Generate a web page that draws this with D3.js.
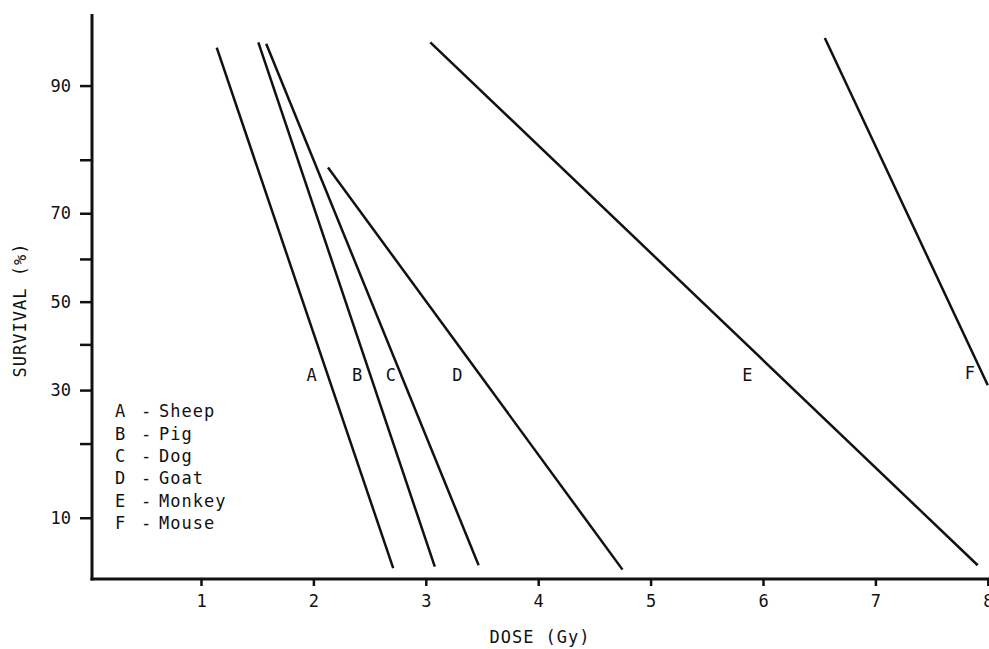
<!DOCTYPE html>
<html>
<head>
<meta charset="utf-8">
<script src="https://cdn.jsdelivr.net/npm/d3@7/dist/d3.min.js"></script>
<style>
  body { margin: 0; background: #fff; }
  text { font-family: "DejaVu Sans Mono", monospace; fill: #111; }
</style>
</head>
<body>
<div id="chart"></div>
<script>
// species lines, endpoints: [dose Gy, survival %]
var species = ["A", "B", "C", "D", "E", "F"];
var names = ["Sheep", "Pig", "Dog", "Goat", "Monkey", "Mouse"];
var doseStart = [1.14, 1.51, 1.58, 2.13, 3.04, 6.55];
var survStart = [93.4, 93.8, 93.7, 78.7, 93.8, 94.1];
var doseEnd = [2.71, 3.08, 3.47, 4.75, 7.91, 8.0];
var survEnd = [5.7, 5.8, 5.9, 5.6, 5.9, 31.0];
// where the letters sit
var labelDose = [1.985, 2.39, 2.69, 3.28, 5.86, 7.84];
var labelSurv = [33.2, 33.2, 33.2, 33.2, 33.2, 33.6];

var doseTicks = [1, 2, 3, 4, 5, 6, 7, 8];
var survTicks = [10, 20, 30, 40, 50, 60, 70, 80, 90];
var survTickLabels = ["10", "", "30", "", "50", "", "70", "", "90"];

var W = 989, H = 649;

// inverse normal cdf (Acklam) - y axis is a probit scale
function probit(p) {
  var a = [-39.69683028665376, 220.9460984245205, -275.9285104469687, 138.3577518672690, -30.66479806614716, 2.506628277459239];
  var b = [-54.47609879822406, 161.5858368580409, -155.6989798598866, 66.80131188771972, -13.28068155288572];
  var c = [-0.007784894002430293, -0.3223964580411365, -2.400758277161838, -2.549732539343734, 4.374664141464968, 2.938163982698783];
  var d = [0.007784695709041462, 0.3224671290700398, 2.445134137142996, 3.754408661907416];
  var pl = 0.02425, q, r;
  if (p < pl) {
    q = Math.sqrt(-2 * Math.log(p));
    return (((((c[0]*q+c[1])*q+c[2])*q+c[3])*q+c[4])*q+c[5]) / ((((d[0]*q+d[1])*q+d[2])*q+d[3])*q+1);
  }
  if (p > 1 - pl) {
    q = Math.sqrt(-2 * Math.log(1 - p));
    return -(((((c[0]*q+c[1])*q+c[2])*q+c[3])*q+c[4])*q+c[5]) / ((((d[0]*q+d[1])*q+d[2])*q+d[3])*q+1);
  }
  q = p - 0.5; r = q * q;
  return (((((a[0]*r+a[1])*r+a[2])*r+a[3])*r+a[4])*r+a[5])*q / (((((b[0]*r+b[1])*r+b[2])*r+b[3])*r+b[4])*r+1);
}

var svg = d3.select("#chart").append("svg")
  .attr("width", W)
  .attr("height", H);

var x = d3.scaleLinear().domain([0, 8]).range([88.6, 987.8]);
var yz = d3.scaleLinear().domain([probit(0.05), probit(0.956)]).range([579, 14]);
function y(p) { return yz(probit(p / 100)); }

var axisX0 = 92, axisY0 = 579;

// y axis
var yAxis = d3.axisLeft(yz)
  .tickValues(survTicks.map(p => probit(p / 100)))
  .tickFormat((d, i) => survTickLabels[i])
  .tickSizeInner(12)
  .tickSizeOuter(0)
  .tickPadding(9);
var gy = svg.append("g").attr("transform", "translate(" + axisX0 + ",0)").call(yAxis);
gy.select(".domain").remove();
gy.selectAll(".tick line").attr("stroke", "#111").attr("stroke-width", 2.5);
gy.selectAll(".tick text").style("font-size", "17px").attr("fill", "#111");
svg.append("line")
  .attr("x1", axisX0).attr("x2", axisX0)
  .attr("y1", 14).attr("y2", axisY0 + 1.5)
  .attr("stroke", "#111").attr("stroke-width", 3);

// x axis
var xAxis = d3.axisBottom(x)
  .tickValues(doseTicks)
  .tickFormat(d3.format("d"))
  .tickSizeInner(7)
  .tickSizeOuter(0)
  .tickPadding(9);
var gx = svg.append("g").attr("transform", "translate(0," + axisY0 + ")").call(xAxis);
gx.select(".domain").remove();
gx.selectAll(".tick line").attr("stroke", "#111").attr("stroke-width", 2.5);
gx.selectAll(".tick text").style("font-size", "17px").attr("fill", "#111");
svg.append("line")
  .attr("x1", axisX0 - 1.5).attr("x2", W)
  .attr("y1", axisY0).attr("y2", axisY0)
  .attr("stroke", "#111").attr("stroke-width", 3);

// axis titles
svg.append("text")
  .attr("x", 540).attr("y", 643)
  .attr("text-anchor", "middle")
  .style("font-size", "17px")
  .style("letter-spacing", "1px")
  .text("DOSE (Gy)");

svg.append("text")
  .attr("transform", "translate(26,310) rotate(-90)")
  .attr("text-anchor", "middle")
  .style("font-size", "17px")
  .style("letter-spacing", "1px")
  .text("SURVIVAL (%)");

// lines
svg.append("g").selectAll("line")
  .data(species)
  .join("line")
  .attr("x1", (d, i) => x(doseStart[i]))
  .attr("y1", (d, i) => y(survStart[i]))
  .attr("x2", (d, i) => x(doseEnd[i]))
  .attr("y2", (d, i) => y(survEnd[i]))
  .attr("stroke", "#111")
  .attr("stroke-width", 2.5);

// line letters
svg.append("g").selectAll("text")
  .data(species)
  .join("text")
  .attr("x", (d, i) => x(labelDose[i]))
  .attr("y", (d, i) => y(labelSurv[i]))
  .attr("dy", "0.36em")
  .attr("text-anchor", "middle")
  .style("font-size", "17px")
  .text(d => d);

// legend
var legend = svg.append("g").attr("transform", "translate(115,411)");
species.forEach(function (s, i) {
  var row = legend.append("g").attr("transform", "translate(0," + (i * 22.4) + ")");
  row.append("text").attr("x", 0).attr("dy", "0.36em").style("font-size", "17px").text(s);
  row.append("text").attr("x", 26).attr("dy", "0.36em").style("font-size", "17px").text("-");
  row.append("text").attr("x", 44).attr("dy", "0.36em").style("font-size", "17px")
    .style("letter-spacing", "1px").text(names[i]);
});
</script>
</body>
</html>
